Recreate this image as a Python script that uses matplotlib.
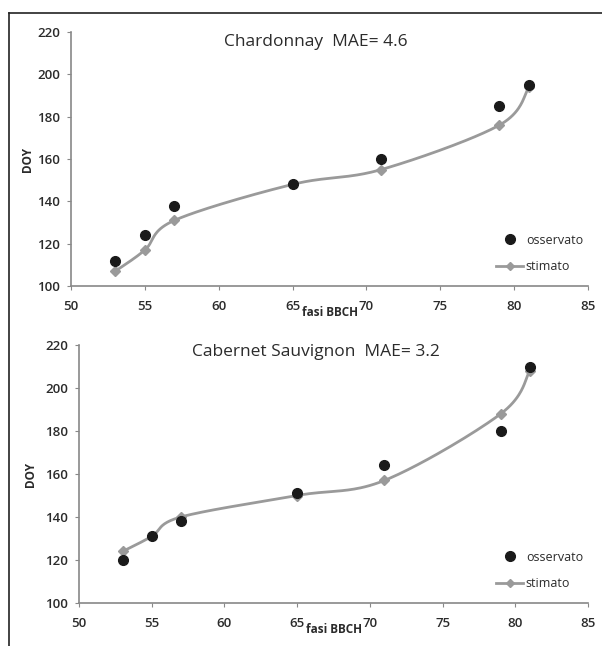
import numpy as np
import matplotlib
matplotlib.use("Agg")
import matplotlib.pyplot as plt
from matplotlib.lines import Line2D

plt.rcParams['font.family'] = ['Open Sans', 'DejaVu Sans']

bbch = [53, 55, 57, 65, 71, 79, 81]

chard_obs = [112, 124, 138, 148, 160, 185, 195]
chard_est = [107, 117, 131, 148, 155, 176, 194]
chard_title = "Chardonnay  MAE= 4.6"

cab_obs = [120, 131, 138, 151, 164, 180, 210]
cab_est = [124, 131, 140, 150, 157, 188, 208]
cab_title = "Cabernet Sauvignon  MAE= 3.2"

xticks = [50, 55, 60, 65, 70, 75, 80, 85]
yticks = [100, 120, 140, 160, 180, 200, 220]

TXT = '#2b2b2b'
OBS = '#1a1a1a'
EST = '#9a9a9a'
SP = '#888888'


def smooth(x, y, n=40):
    x = np.asarray(x, float)
    y = np.asarray(y, float)
    P = np.column_stack([x, y])
    out = [P[0]]
    for i in range(len(P) - 1):
        p0 = P[i - 1] if i > 0 else P[i]
        p1 = P[i]
        p2 = P[i + 1]
        p3 = P[i + 2] if i + 2 < len(P) else P[i + 1]
        c1 = p1 + (p2 - p0) / 6.0
        c2 = p2 - (p3 - p1) / 6.0
        t = np.linspace(0, 1, n)[1:, None]
        b = ((1 - t) ** 3) * p1 + 3 * ((1 - t) ** 2) * t * c1 + 3 * (1 - t) * t ** 2 * c2 + t ** 3 * p2
        out.extend(b)
    out = np.array(out)
    return out[:, 0], out[:, 1]


fig = plt.figure(figsize=(6.02, 6.46), dpi=100)

axes_pos = [
    [71 / 602, 1 - 286 / 646, (588 - 71) / 602, (286 - 32) / 646],
    [79 / 602, 1 - 603 / 646, (588 - 79) / 602, (603 - 345) / 646],
]
panels = [
    (chard_obs, chard_est, chard_title, 0.474, 0.96, 2),
    (cab_obs, cab_est, cab_title, 0.466, 0.973, 6),
]

for pos, (obs, est, title, tx, ty, ylp) in zip(axes_pos, panels):
    ax = fig.add_axes(pos)
    sx, sy = smooth(bbch, est)
    ax.plot(sx, sy, color=EST, lw=2.0, zorder=2)
    ax.plot(bbch, est, linestyle='none', marker='D', ms=5, color=EST, zorder=3)
    ax.plot(bbch, obs, linestyle='none', marker='o', ms=7, color=OBS, zorder=4)
    ax.set_xlim(50, 85)
    ax.set_ylim(100, 220)
    ax.set_xticks(xticks)
    ax.set_yticks(yticks)
    for s in ['top', 'right']:
        ax.spines[s].set_visible(False)
    for s in ['left', 'bottom']:
        ax.spines[s].set_color(SP)
        ax.spines[s].set_linewidth(1.2)
    ax.tick_params(axis='both', direction='out', length=3, color=SP, labelsize=9.5,
                   labelcolor=TXT)
    ax.tick_params(axis='x', pad=7)
    ax.tick_params(axis='y', pad=5)
    for lab in ax.get_xticklabels() + ax.get_yticklabels():
        lab.set_fontweight('semibold')
    ax.set_xlabel('fasi BBCH', fontsize=8.5, fontweight='bold', color=TXT, labelpad=-5)
    ax.set_ylabel('DOY', fontsize=8.5, fontweight='bold', color=TXT, labelpad=ylp)
    ax.text(tx, ty, title, transform=ax.transAxes, ha='center', va='center',
            fontsize=12.5, color=TXT)
    h_obs = Line2D([], [], linestyle='none', marker='o', ms=7, color=OBS)
    h_est = Line2D([], [], color=EST, lw=2.0, marker='D', ms=4)
    ax.legend([h_obs, h_est], ['osservato', 'stimato'], loc='lower right',
              bbox_to_anchor=(1.0, 0.03), borderaxespad=0.0, frameon=False,
              fontsize=9, handlelength=2.2, handletextpad=0.2, labelspacing=1.1,
              labelcolor=TXT)

# figure frame lines
fig.add_artist(Line2D([9 / 602, 9 / 602], [0, 1 - 13 / 646], color='#222222', lw=1.2,
                      transform=fig.transFigure))
fig.add_artist(Line2D([9 / 602, 1], [1 - 13 / 646, 1 - 13 / 646], color='#222222', lw=1.2,
                      transform=fig.transFigure))

fig.savefig('out.png', dpi=100, facecolor='white')
